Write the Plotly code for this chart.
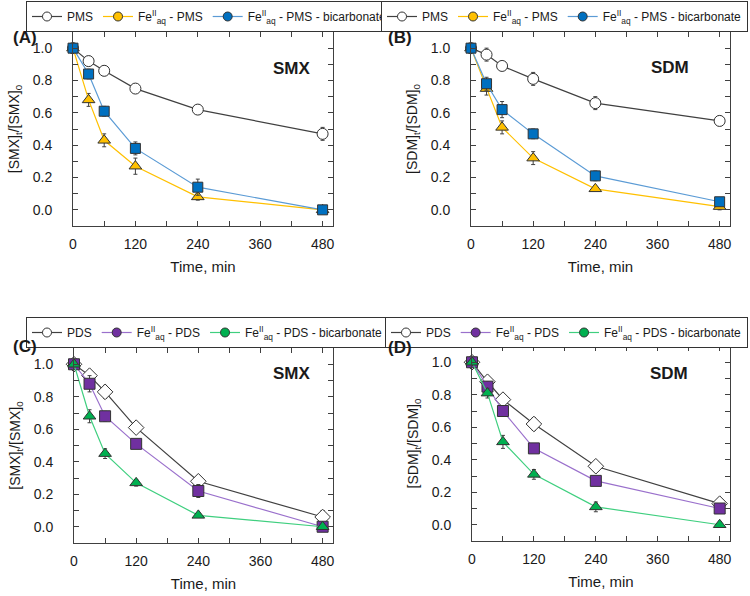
import plotly.graph_objects as go

# ---------------- data ----------------
time_min = [0, 30, 60, 120, 240, 480]

# Panel A: SMX, PMS systems
smx_pms = [1.00, 0.92, 0.86, 0.75, 0.62, 0.47]
smx_pms_err = [0.02, 0.03, 0.03, 0.03, 0.03, 0.04]
smx_fe_pms = [1.00, 0.68, 0.43, 0.27, 0.08, 0.00]
smx_fe_pms_err = [0.02, 0.04, 0.04, 0.05, 0.02, 0.00]
smx_fe_pms_bic = [1.00, 0.84, 0.61, 0.38, 0.14, 0.00]
smx_fe_pms_bic_err = [0.02, 0.03, 0.03, 0.04, 0.05, 0.00]

# Panel B: SDM, PMS systems
sdm_pms = [1.00, 0.96, 0.89, 0.81, 0.66, 0.55]
sdm_pms_err = [0.02, 0.04, 0.02, 0.04, 0.04, 0.03]
sdm_fe_pms = [1.00, 0.75, 0.51, 0.32, 0.13, 0.02]
sdm_fe_pms_err = [0.02, 0.04, 0.04, 0.04, 0.01, 0.02]
sdm_fe_pms_bic = [1.00, 0.78, 0.62, 0.47, 0.21, 0.05]
sdm_fe_pms_bic_err = [0.02, 0.04, 0.05, 0.03, 0.03, 0.01]

# Panel C: SMX, PDS systems
smx_pds = [1.00, 0.93, 0.83, 0.61, 0.28, 0.06]
smx_pds_err = [0.02, 0.03, 0.04, 0.03, 0.03, 0.04]
smx_fe_pds = [1.00, 0.88, 0.68, 0.51, 0.22, 0.00]
smx_fe_pds_err = [0.02, 0.05, 0.03, 0.02, 0.04, 0.00]
smx_fe_pds_bic = [1.00, 0.68, 0.45, 0.27, 0.07, 0.00]
smx_fe_pds_bic_err = [0.02, 0.04, 0.03, 0.02, 0.01, 0.00]

# Panel D: SDM, PDS systems
sdm_pds = [1.00, 0.88, 0.77, 0.62, 0.36, 0.13]
sdm_pds_err = [0.02, 0.03, 0.02, 0.04, 0.02, 0.03]
sdm_fe_pds = [1.00, 0.85, 0.70, 0.47, 0.27, 0.10]
sdm_fe_pds_err = [0.02, 0.03, 0.03, 0.02, 0.02, 0.02]
sdm_fe_pds_bic = [1.00, 0.81, 0.51, 0.31, 0.11, 0.00]
sdm_fe_pds_bic_err = [0.02, 0.03, 0.04, 0.03, 0.03, 0.01]

names_pms = ["PMS", "Fe<sup>II</sup><sub>aq</sub> - PMS", "Fe<sup>II</sup><sub>aq</sub> - PMS - bicarbonate"]
names_pds = ["PDS", "Fe<sup>II</sup><sub>aq</sub> - PDS", "Fe<sup>II</sup><sub>aq</sub> - PDS - bicarbonate"]
panel_labels = ["(A)", "(B)", "(C)", "(D)"]
compound_labels = ["SMX", "SDM", "SMX", "SDM"]
y_titles = ["[SMX]<sub>t</sub>/[SMX]<sub>0</sub>", "[SDM]<sub>t</sub>/[SDM]<sub>0</sub>",
            "[SMX]<sub>t</sub>/[SMX]<sub>0</sub>", "[SDM]<sub>t</sub>/[SDM]<sub>0</sub>"]

# ---------------- styles ----------------
FONT = "Arial, Liberation Sans, sans-serif"
EDGE = "#333333"
# (marker fill, line colour, symbol, size)
sty_pms = [("white", "#404040", "circle", 11), ("#FFC000", "#FFC000", "triangle-up", 11),
           ("#0070C0", "#5B9BD5", "square", 10)]
sty_pds = [("white", "#404040", "diamond", 12), ("#7030A0", "#9A70CC", "square", 11),
           ("#00B050", "#3FCF7F", "triangle-up", 11)]

panels = [
    ([smx_pms, smx_fe_pms, smx_fe_pms_bic], [smx_pms_err, smx_fe_pms_err, smx_fe_pms_bic_err], names_pms, sty_pms),
    ([sdm_pms, sdm_fe_pms, sdm_fe_pms_bic], [sdm_pms_err, sdm_fe_pms_err, sdm_fe_pms_bic_err], names_pms, sty_pms),
    ([smx_pds, smx_fe_pds, smx_fe_pds_bic], [smx_pds_err, smx_fe_pds_err, smx_fe_pds_bic_err], names_pds, sty_pds),
    ([sdm_pds, sdm_fe_pds, sdm_fe_pds_bic], [sdm_pds_err, sdm_fe_pds_err, sdm_fe_pds_bic_err], names_pds, sty_pds),
]

W, H = 750, 596
# plot-area boxes in pixels (left, right, top, bottom)
boxes = [(73, 333, 32, 226), (471, 730, 32, 226), (74, 333, 348, 543), (472, 730, 346, 541)]
# legend anchors in pixels (x, xanchor, top)
legend_pos = [(26, "left", 1), (748, "right", 1), (26, "left", 317), (748, "right", 317)]
panel_label_pos = [(12, 27), (400, 27), (12, 346), (400, 347)]
compound_pos = [(292, 57), (691, 56), (292, 373), (690, 373)]

fig = go.Figure()
legend_ids = ["legend", "legend2", "legend3", "legend4"]

for p, (series, errs, names, styles) in enumerate(panels):
    ax = "" if p == 0 else str(p + 1)
    for s in range(3):
        fill, lcol, sym, size = styles[s]
        fig.add_trace(go.Scatter(
            x=time_min, y=series[s], mode="lines+markers",
            line=dict(color=lcol, width=1.2),
            marker=dict(symbol=sym, size=size, color=fill, line=dict(color=EDGE, width=1)),
            error_y=dict(type="data", array=errs[s], color="#404040", thickness=1, width=2),
            cliponaxis=False, showlegend=False, name=names[s],
            xaxis="x" + ax, yaxis="y" + ax,
        ))
    # legend entries (circle symbols as in the original legends)
    for s in range(3):
        fill, lcol, sym, size = styles[s]
        fig.add_trace(go.Scatter(
            x=[None], y=[None], mode="lines+markers", name=names[s],
            line=dict(color=lcol, width=1.2),
            marker=dict(symbol="circle", size=9, color=fill, line=dict(color=EDGE, width=1)),
            legend=legend_ids[p], xaxis="x" + ax, yaxis="y" + ax,
        ))

layout = dict(
    width=W, height=H, autosize=False,
    margin=dict(l=0, r=0, t=0, b=0, autoexpand=False),
    paper_bgcolor="white", plot_bgcolor="white",
    font=dict(family=FONT, size=14, color="#1a1a1a"),
)

annotations = []
for p in range(4):
    ax = "" if p == 0 else str(p + 1)
    l, r, t, b = boxes[p]
    layout["xaxis" + ax] = dict(
        domain=[l / W, r / W], range=[0, 500], anchor="y" + ax,
        tickmode="linear", tick0=0, dtick=120,
        ticks="inside", ticklen=5, tickcolor="#404040",
        minor=dict(dtick=60, ticks="inside", ticklen=5, tickcolor="#404040"),
        showline=True, linecolor="#404040", linewidth=1, mirror="ticks",
        showgrid=False, zeroline=False, ticklabelstandoff=5, automargin=False,
        tickfont=dict(size=14),
        title=dict(text="Time, min", font=dict(size=15), standoff=10),
    )
    layout["yaxis" + ax] = dict(
        domain=[1 - b / H, 1 - t / H], range=[-0.1, 1.1], anchor="x" + ax,
        tickmode="linear", tick0=0, dtick=0.2, tickformat=".1f",
        ticks="inside", ticklen=5, tickcolor="#404040",
        minor=dict(dtick=0.1, ticks="inside", ticklen=5, tickcolor="#404040"),
        showline=True, linecolor="#404040", linewidth=1, mirror="ticks",
        showgrid=False, zeroline=False, ticklabelstandoff=17, automargin=False,
        tickfont=dict(size=14),
        title=dict(text=y_titles[p], font=dict(size=14), standoff=9),
    )
    lx, lanchor, lt = legend_pos[p]
    layout[legend_ids[p]] = dict(
        orientation="h", x=lx / W, xanchor=lanchor,
        y=1 - lt / H, yanchor="top", xref="paper", yref="paper",
        bordercolor="#333333", borderwidth=1, bgcolor="white",
        font=dict(size=12), itemwidth=30, tracegroupgap=0,
    )
    px_, py_ = panel_label_pos[p]
    annotations.append(dict(text="<b>%s</b>" % panel_labels[p], x=px_ / W, y=1 - py_ / H,
                            xref="paper", yref="paper", showarrow=False, borderpad=0,
                            font=dict(size=17, color="#1a1a1a")))
    cx, cy = compound_pos[p]
    annotations.append(dict(text="<b>%s</b>" % compound_labels[p], x=cx / W, y=1 - cy / H,
                            xref="paper", yref="paper", showarrow=False,
                            font=dict(size=17, color="#1a1a1a")))

layout["annotations"] = annotations
fig.update_layout(**layout)
fig.write_html("out.html", config={"displayModeBar": False},
               post_script="document.body.style.margin='0';document.body.style.overflow='hidden';")
